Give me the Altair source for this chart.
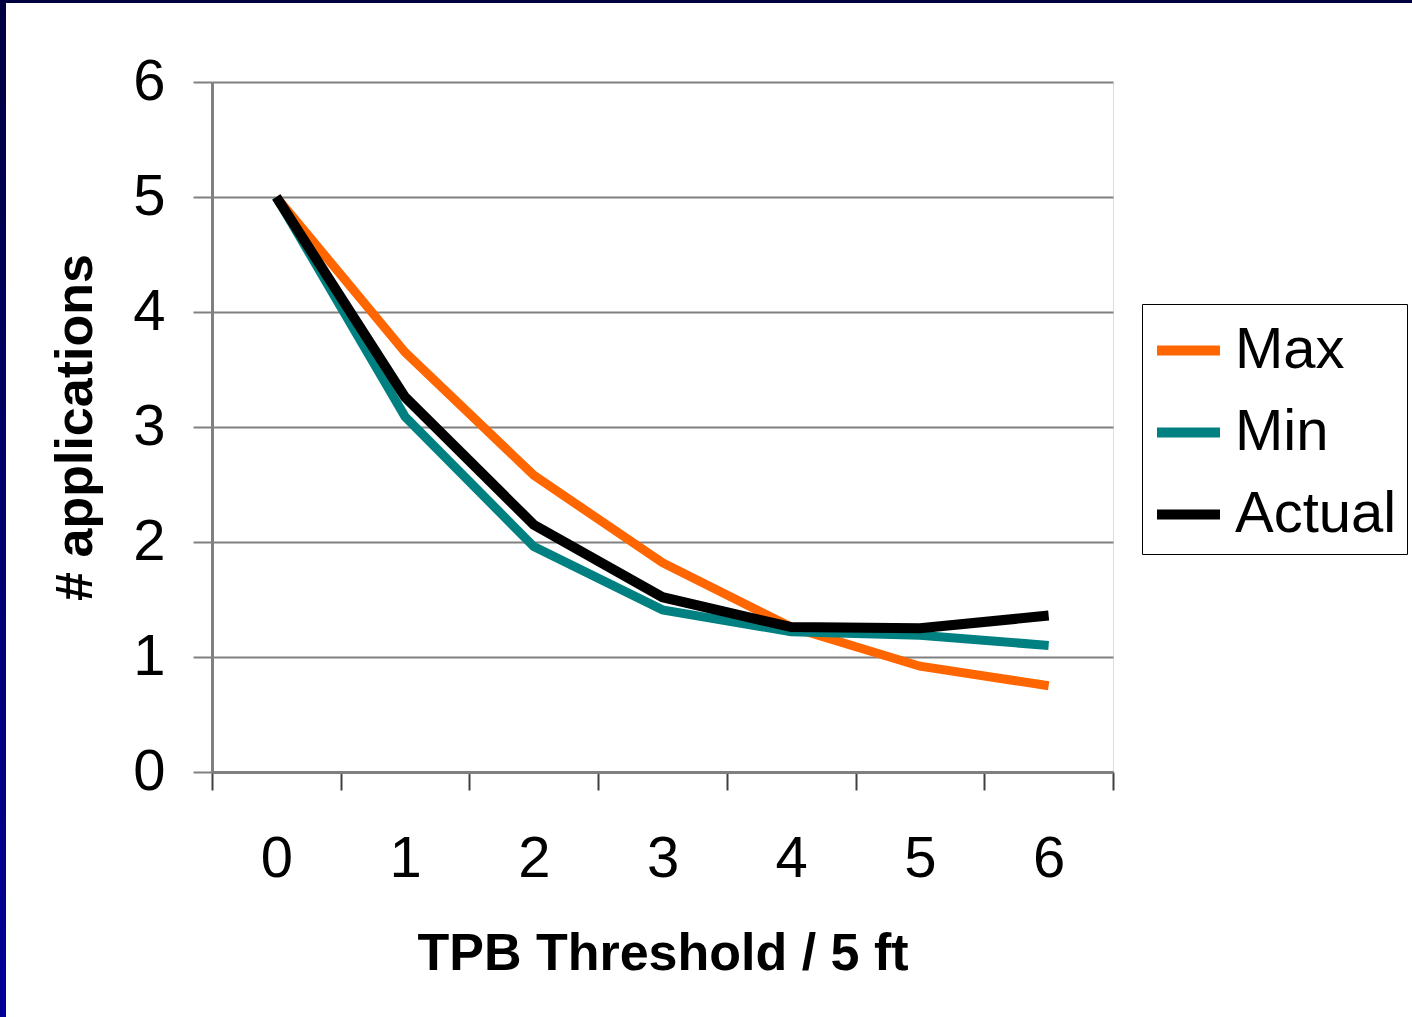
import altair as alt
import pandas as pd

categories = ["0", "1", "2", "3", "4", "5", "6"]
max_vals = [5.0, 3.65, 2.58, 1.82, 1.26, 0.92, 0.75]
min_vals = [5.0, 3.09, 1.96, 1.41, 1.22, 1.19, 1.10]
actual_vals = [5.0, 3.26, 2.15, 1.52, 1.26, 1.25, 1.36]
series_names = ["Max", "Min", "Actual"]
series_colors = ["#FF6600", "#008080", "#000000"]
series_widths = [9, 9, 10]
y_ticks = [0, 1, 2, 3, 4, 5, 6]

rows = []
for name, vals in zip(series_names, [max_vals, min_vals, actual_vals]):
    for c, v in zip(categories, vals):
        rows.append({"threshold": c, "value": v, "series": name})
df = pd.DataFrame(rows)

FONT = "Liberation Sans"

x_enc = alt.X(
    "threshold:O",
    sort=categories,
    bandPosition=0.5,
    scale=alt.Scale(type="band", paddingInner=0, paddingOuter=0),
    axis=alt.Axis(
        title="TPB Threshold / 5 ft",
        labelAngle=0,
        tickBand="extent",
        tickSize=18,
        tickColor="#404040",
        tickWidth=2,
        labelPadding=40,
        labelFontSize=58,
        labelColor="black",
        labelFont=FONT,
        domainColor="#808080",
        domainWidth=3,
        titleFontSize=52,
        titleFontWeight="bold",
        titleFont=FONT,
        titleColor="black",
        titlePadding=40,
        grid=False,
    ),
)

y_enc = alt.Y(
    "value:Q",
    scale=alt.Scale(domain=[0, 6], nice=False, zero=True),
    axis=alt.Axis(
        title="# applications",
        values=y_ticks,
        format="d",
        tickSize=19,
        tickColor="#808080",
        tickWidth=2,
        labelPadding=28,
        labelFontSize=58,
        labelColor="black",
        labelFont=FONT,
        domainColor="#808080",
        domainWidth=3,
        grid=True,
        gridColor="#808080",
        gridWidth=2,
        titleFontSize=52,
        titleFontWeight="bold",
        titleFont=FONT,
        titleColor="black",
        titlePadding=30,
    ),
)

color_enc = alt.Color(
    "series:N",
    scale=alt.Scale(domain=series_names, range=series_colors),
    legend=alt.Legend(
        title=None,
        orient="none",
        legendX=930,
        legendY=222,
        symbolType="stroke",
        symbolSize=3969,
        symbolStrokeWidth=10,
        labelFontSize=58,
        labelFont=FONT,
        labelColor="black",
        labelOffset=10,
        labelLimit=0,
        rowPadding=16,
        padding=10,
        strokeColor="black",
        fillColor="white",
    ),
)

base = alt.Chart(df)
line_layers = []
for name, w in zip(series_names, series_widths):
    line_layers.append(
        base.transform_filter(alt.datum.series == name)
        .mark_line(strokeWidth=w, strokeJoin="miter", strokeCap="butt")
        .encode(x=x_enc, y=y_enc, color=color_enc)
    )

frame_data = alt.Data(values=[{"k": 1}])
left_band = alt.Chart(frame_data).mark_rect(
    color=alt.LinearGradient(
        gradient="linear",
        stops=[
            alt.GradientStop(color="#000040", offset=0),
            alt.GradientStop(color="#000099", offset=1),
        ],
        x1=0, x2=0, y1=0, y2=1,
    )
).encode(
    x=alt.value(-212), x2=alt.value(-206), y=alt.value(-82), y2=alt.value(935)
)
top_band = alt.Chart(frame_data).mark_rect(color="#000040").encode(
    x=alt.value(-212), x2=alt.value(1300), y=alt.value(-82), y2=alt.value(-79)
)

chart = alt.layer(left_band, top_band, *line_layers).properties(
    width=901,
    height=690,
    autosize=alt.AutoSizeParams(type="none"),
    padding={"left": 212, "top": 82, "right": 299, "bottom": 245},
    background="white",
).configure_view(
    stroke="#808080", strokeWidth=3
).configure(font=FONT)

chart.save("out.html", embed_options={"renderer": "svg", "actions": False})
